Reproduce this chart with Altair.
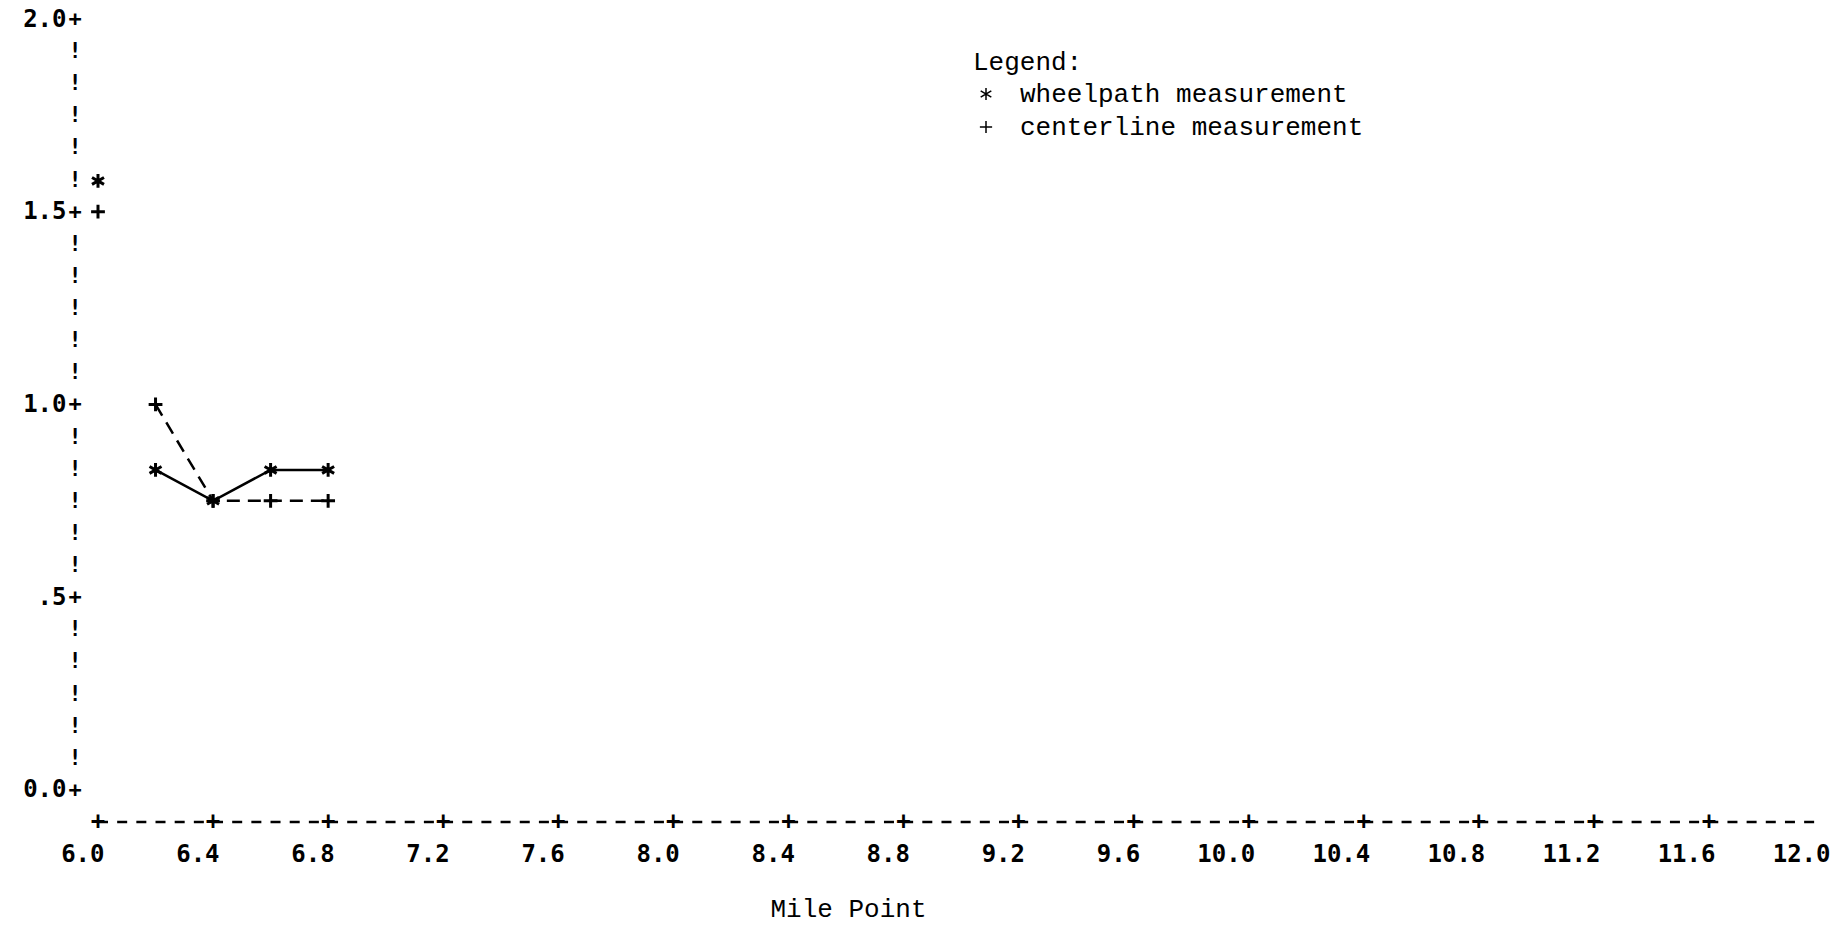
import altair as alt
import pandas as pd

# Rut depth readings along the route (mile point vs. depth)
mile = [6.0, 6.2, 6.4, 6.6, 6.8]
wheelpath = [1.58, 0.83, 0.75, 0.83, 0.83]
centerline = [1.50, 1.00, 0.75, 0.75, 0.75]
segment = [1, 2, 2, 2, 2]  # the 6.0 reading is not joined to the run that follows

series_names = ["wheelpath measurement", "centerline measurement"]

x_ticks = [6.0, 6.4, 6.8, 7.2, 7.6, 8.0, 8.4, 8.8, 9.2, 9.6,
           10.0, 10.4, 10.8, 11.2, 11.6, 12.0]
y_ticks = [0.0, 0.5, 1.0, 1.5, 2.0]

ROW = 1 / 12          # one printer line in depth units
ROWS_PER_TICK = 6
AXIS_END = 11.97      # the dashed base line stops just short of 12.0

MONO = "DejaVu Sans Mono"
TYPE = "Liberation Mono"

# glyph-like symbols in the unit box
ASTERISK = "M0,-1L0,1M-0.87,-0.5L0.87,0.5M-0.87,0.5L0.87,-0.5"
PLUS = "M0,-1L0,1M-1,0L1,0"

df = pd.DataFrame({
    "mile": mile * 2,
    "value": wheelpath + centerline,
    "series": [series_names[0]] * len(mile) + [series_names[1]] * len(mile),
    "segment": segment * 2,
})

xscale = alt.Scale(domain=[x_ticks[0], x_ticks[-1]], nice=False, zero=False)
yscale = alt.Scale(domain=[-ROW, y_ticks[-1]], nice=False, zero=False)

x_axis = alt.Axis(
    values=x_ticks, format=".1f", domain=False, ticks=False, tickSize=0,
    grid=False, labelFont=MONO, labelFontWeight="bold", labelFontSize=24,
    labelColor="black", labelAlign="right", labelOffset=6, labelBaseline="middle",
    labelPadding=32, labelFlush=False, labelOverlap=False,
    title="Mile Point", titleFont=TYPE, titleFontSize=26, titleFontWeight="normal",
    titleColor="black", titleX=750, titleY=86, titleAlign="center",
    titleBaseline="middle",
)
y_axis = alt.Axis(
    values=y_ticks, domain=False, ticks=False, tickSize=0, grid=False,
    labelExpr="datum.value == 0.5 ? '.5' : format(datum.value, '.1f')",
    labelFont=MONO, labelFontWeight="bold", labelFontSize=24, labelColor="black",
    labelAlign="right", labelBaseline="middle", labelPadding=32,
    labelFlush=False, labelOverlap=False, title=None,
)


def xenc(field):
    return alt.X(field, scale=xscale, axis=x_axis, title="Mile Point")


def yenc(field):
    return alt.Y(field, scale=yscale, axis=y_axis, title=None)


base = alt.Chart(df)

# wheelpath joined with a solid line, centerline with a dashed one
line_w = base.transform_filter(
    alt.datum.series == series_names[0]
).mark_line(color="black", strokeWidth=2.5).encode(
    x=xenc("mile:Q"), y=yenc("value:Q"), detail="segment:N",
)
line_c = base.transform_filter(
    alt.datum.series == series_names[1]
).mark_line(color="black", strokeWidth=2.5, strokeDash=[13, 8]).encode(
    x=xenc("mile:Q"), y=yenc("value:Q"), detail="segment:N",
)

points = base.mark_point(
    filled=False, color="black", strokeWidth=3, size=190, opacity=1
).encode(
    x=xenc("mile:Q"),
    y=yenc("value:Q"),
    shape=alt.Shape(
        "series:N",
        scale=alt.Scale(domain=series_names, range=[ASTERISK, PLUS]),
        legend=alt.Legend(
            title="Legend:", orient="none", legendX=875, legendY=30,
            titleFont=TYPE, titleFontSize=26, titleFontWeight="normal",
            titleColor="black", titlePadding=6,
            labelFont=TYPE, labelFontSize=26, labelColor="black",
            labelOffset=21, labelLimit=1000, rowPadding=7,
            symbolSize=150, symbolStrokeWidth=1.5, symbolStrokeColor="black",
            symbolFillColor="transparent",
        ),
    ),
)

# vertical ruler: '+' at each labelled depth, '!' on the printer lines between
rows = []
for i, lo in enumerate(y_ticks):
    rows.append({"value": lo, "glyph": "+"})
    if i < len(y_ticks) - 1:
        step = (y_ticks[i + 1] - lo) / ROWS_PER_TICK
        for k in range(1, ROWS_PER_TICK):
            rows.append({"value": lo + k * step, "glyph": "!"})
ruler_df = pd.DataFrame(rows)

y_ruler = alt.Chart(ruler_df).mark_text(
    font=MONO, fontWeight="bold", fontSize=22, color="black",
    align="center", baseline="middle",
).encode(
    x=alt.value(-23),
    y=yenc("value:Q"),
    text="glyph:N",
)

# horizontal base line one printer line below zero, with '+' at each mile tick
base_df = pd.DataFrame({"mile": [x_ticks[0]], "end": [AXIS_END], "value": [-ROW]})
x_line = alt.Chart(base_df).mark_rule(
    color="black", strokeWidth=2.5, strokeDash=[10, 9.17]
).encode(
    x=xenc("mile:Q"),
    x2="end:Q",
    y=yenc("value:Q"),
)

tick_df = pd.DataFrame({"mile": x_ticks[:-1], "value": [-ROW] * (len(x_ticks) - 1)})
x_plus = alt.Chart(tick_df).mark_text(
    font=MONO, fontWeight="bold", fontSize=24, color="black",
    align="center", baseline="middle", text="+",
).encode(
    x=xenc("mile:Q"),
    y=yenc("value:Q"),
)

chart = alt.layer(line_w, line_c, points, y_ruler, x_line, x_plus).properties(
    width=1726,
    height=803,
    autosize=alt.AutoSizeParams(type="none"),
    padding={"left": 98, "top": 19, "right": 20, "bottom": 103},
    background="white",
).configure_view(stroke=None)

chart.save("out.html", embed_options={"renderer": "svg", "actions": False})
